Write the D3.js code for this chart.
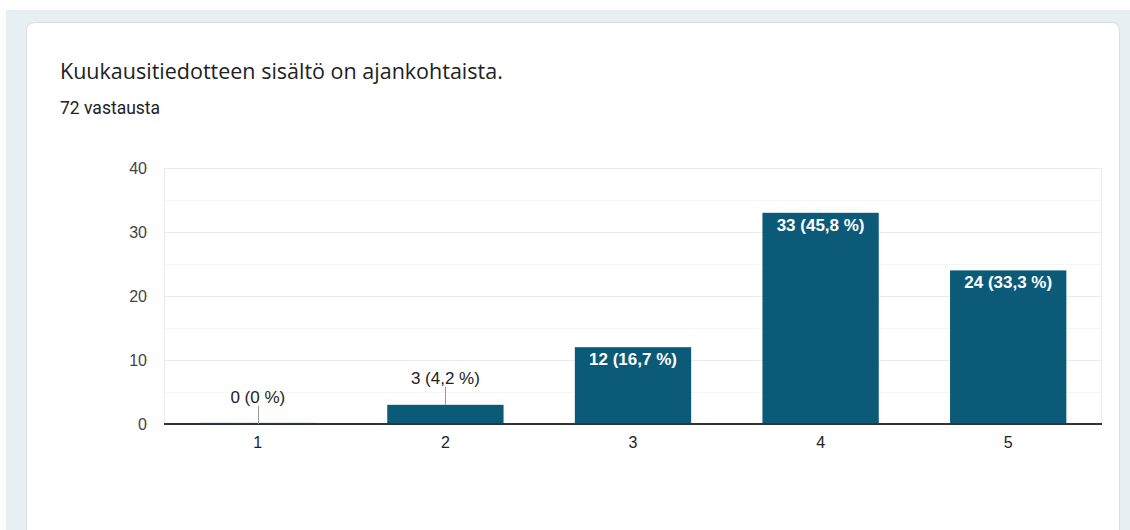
<!DOCTYPE html>
<html>
<head>
<meta charset="utf-8">
<script src="https://cdn.jsdelivr.net/npm/d3@7"></script>
<style>
  html, body { margin: 0; padding: 0; background: #ffffff; }
  svg { display: block; }
</style>
</head>
<body>
<svg id="chart" width="1130" height="530"></svg>
<script>
// Survey answers on a 1–5 scale
const categories = ["1", "2", "3", "4", "5"];
const counts = [0, 3, 12, 33, 24];
const percentLabels = ["0 %", "4,2 %", "16,7 %", "45,8 %", "33,3 %"];
const yTicks = [0, 10, 20, 30, 40];
const yMinorTicks = [5, 15, 25, 35];
const titleText = "Kuukausitiedotteen sisältö on ajankohtaista.";
const subtitleText = "72 vastausta";

const svg = d3.select("#chart");

// Page backdrop and card
svg.append("rect").attr("x", 6).attr("y", 10).attr("width", 1124).attr("height", 520).attr("fill", "#e8eff2");
svg.append("rect").attr("x", 26.5).attr("y", 22.5).attr("width", 1093).attr("height", 530)
  .attr("rx", 8).attr("ry", 8).attr("fill", "#ffffff").attr("stroke", "#dadce0").attr("stroke-width", 1);

svg.append("text").attr("x", 60).attr("y", 79)
  .attr("font-family", "'Open Sans', Roboto, sans-serif").attr("font-size", 21.5)
  .attr("fill", "#202124").text(titleText);
svg.append("text").attr("x", 60).attr("y", 114)
  .attr("font-family", "Roboto, sans-serif").attr("font-size", 17.5)
  .attr("fill", "#202124").text(subtitleText);

const plot = { left: 164, right: 1102, top: 168, bottom: 424 };

const x = d3.scaleBand().domain(categories).range([plot.left, plot.right]).paddingInner(0.38).paddingOuter(0.19);
const y = d3.scaleLinear().domain([0, 40]).range([plot.bottom, plot.top]);

const g = svg.append("g");
const axisFont = "Arial, 'Liberation Sans', sans-serif";

// Gridlines
g.selectAll(".minor").data(yMinorTicks).join("line")
  .attr("x1", plot.left).attr("x2", plot.right)
  .attr("y1", d => Math.round(y(d)) + 0.5).attr("y2", d => Math.round(y(d)) + 0.5)
  .attr("stroke", "#f5f5f5").attr("stroke-width", 1);
g.selectAll(".major").data(yTicks.filter(d => d > 0)).join("line")
  .attr("x1", plot.left).attr("x2", plot.right)
  .attr("y1", d => Math.round(y(d)) + 0.5).attr("y2", d => Math.round(y(d)) + 0.5)
  .attr("stroke", "#ebebeb").attr("stroke-width", 1);
g.append("line").attr("x1", plot.left + 0.5).attr("x2", plot.left + 0.5)
  .attr("y1", plot.top).attr("y2", plot.bottom).attr("stroke", "#ebebeb");
g.append("line").attr("x1", plot.right - 0.5).attr("x2", plot.right - 0.5)
  .attr("y1", plot.top).attr("y2", plot.bottom).attr("stroke", "#ebebeb");

// Y axis labels
const yAxis = d3.axisLeft(y).tickValues(yTicks).tickSize(0).tickPadding(17);
const yg = g.append("g").attr("transform", `translate(${plot.left},0)`).call(yAxis);
yg.select(".domain").remove();
yg.selectAll("text").attr("font-family", axisFont)
  .attr("font-size", 16).attr("fill", "#444444");

// Bars
const data = categories.map((c, i) => ({ c, v: counts[i], p: percentLabels[i] }));
g.selectAll(".bar").data(data).join("rect")
  .attr("x", d => x(d.c)).attr("width", x.bandwidth())
  .attr("y", d => y(d.v)).attr("height", d => Math.max(0, y(0) - y(d.v)))
  .attr("fill", "#0b5a78");

// Zero-value bar hint line
g.selectAll(".zero").data(data.filter(d => d.v === 0)).join("line")
  .attr("x1", d => x(d.c)).attr("x2", d => x(d.c) + x.bandwidth())
  .attr("y1", y(0) - 1).attr("y2", y(0) - 1)
  .attr("stroke", "#c9dbe3").attr("stroke-width", 1);

// X axis baseline
g.append("line").attr("x1", plot.left).attr("x2", plot.right)
  .attr("y1", plot.bottom).attr("y2", plot.bottom)
  .attr("stroke", "#333333").attr("stroke-width", 2);

// X axis labels
const xAxis = d3.axisBottom(x).tickSize(0).tickPadding(13);
const xg = g.append("g").attr("transform", `translate(0,${plot.bottom})`).call(xAxis);
xg.select(".domain").remove();
xg.selectAll("text").attr("font-family", axisFont)
  .attr("font-size", 16).attr("fill", "#222222");

// Value labels: inside tall bars, above short bars with a leader line
const insideMin = 8;
data.forEach(d => {
  const cx = x(d.c) + x.bandwidth() / 2;
  const label = `${d.v} (${d.p})`;
  if (d.v >= insideMin) {
    g.append("text").attr("x", cx).attr("y", y(d.v) + 18)
      .attr("text-anchor", "middle").attr("font-family", axisFont)
      .attr("font-size", 17).attr("font-weight", "bold").attr("fill", "#ffffff").text(label);
  } else {
    const top = y(d.v);
    g.append("line").attr("x1", Math.round(cx) + 0.5).attr("x2", Math.round(cx) + 0.5)
      .attr("y1", top).attr("y2", top - 18).attr("stroke", "#999999").attr("stroke-width", 1);
    g.append("text").attr("x", cx).attr("y", top - 21)
      .attr("text-anchor", "middle").attr("font-family", axisFont)
      .attr("font-size", 17).attr("fill", "#222222").text(label);
  }
});
</script>
</body>
</html>
